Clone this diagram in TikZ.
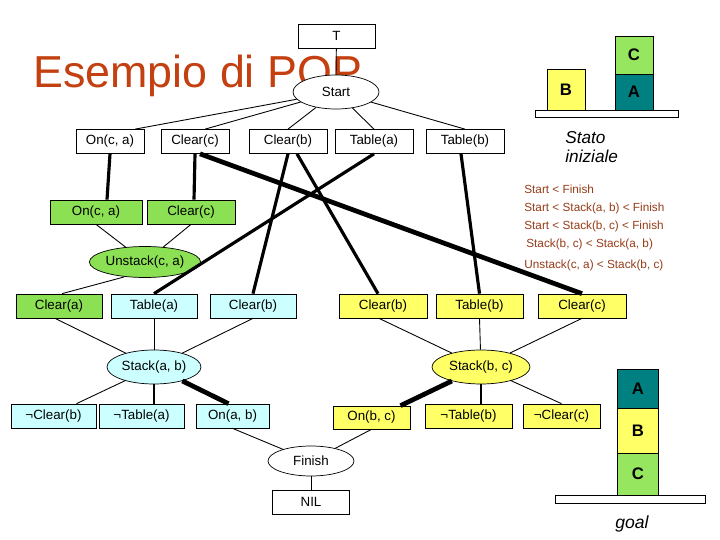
\documentclass[tikz,border=0pt]{standalone}
\usepackage{fontspec}
\setmainfont{Liberation Sans}
\usetikzlibrary{shapes.geometric,calc}

\definecolor{titlered}{RGB}{196,64,16}
\definecolor{ordbrown}{RGB}{150,60,25}
\definecolor{popgreen}{RGB}{140,224,84}
\definecolor{popcyan}{RGB}{204,255,255}
\definecolor{popyellow}{RGB}{255,255,102}
\definecolor{blockteal}{RGB}{0,128,128}
\definecolor{blockgreen}{RGB}{150,230,95}

\newcommand{\popfont}{\fontsize{7.6}{9}\selectfont}

\begin{document}
\begin{tikzpicture}[x=0.02cm, y=-0.02cm,
    cond/.style={draw, fill=white, minimum height=0.48cm, minimum width=1.72cm,
                 inner sep=1pt, font=\popfont},
    act/.style={draw, ellipse, fill=white, inner sep=0pt, font=\popfont},
    blk/.style={draw, inner sep=0pt, font=\fontsize{9.5}{11}\selectfont\bfseries},
    ord/.style={anchor=west, text=ordbrown, inner sep=0pt, font=\fontsize{6.7}{8}\selectfont},
    lnk/.style={line width=0.5pt},
    medlnk/.style={line width=1.2pt},
    caus/.style={line width=1.8pt},
    bigcaus/.style={line width=2.7pt}
]
    \path[fill=white, use as bounding box] (0,0) rectangle (720,540);

    % title
    \node[anchor=base west, inner sep=0pt, text=titlered,
          font=\fontsize{25.5}{28}\selectfont] (ttl) at (33,88) {Esempio di POP};

    % plan graph
    \node[cond, minimum width=1.54cm] (t) at (336.5,36) {T};
    \draw[lnk] (t) -- (336,75);
    \node[act, minimum width=1.72cm, minimum height=0.68cm] (st) at (336,92) {Start};

    \node[cond, minimum width=1.36cm] (ton) at (110,141.5) {On(c, a)};
    \node[cond, minimum width=1.36cm] (tcc) at (195,141.5) {Clear(c)};
    \node[cond, minimum width=1.56cm] (tcb) at (288,141.5) {Clear(b)};
    \node[cond, minimum width=1.56cm] (tta) at (374,141.5) {Table(a)};
    \node[cond, minimum width=1.56cm] (ttb) at (465,141.5) {Table(b)};

    \node[cond, fill=popgreen, minimum width=1.84cm] (gon) at (96,212) {On(c, a)};
    \node[cond, fill=popgreen, minimum width=1.76cm] (gcc) at (191,212) {Clear(c)};
    \node[act, fill=popgreen, minimum width=2.06cm, minimum height=0.62cm] (un) at (145,262) {Unstack(c, a)};

    \node[cond, fill=popgreen] (gca) at (59,306) {Clear(a)};
    \node[cond, fill=popcyan] (cta) at (154,306) {Table(a)};
    \node[cond, fill=popcyan] (ccb) at (253,306) {Clear(b)};
    \node[cond, fill=popyellow, minimum width=1.76cm] (ycb) at (383,306) {Clear(b)};
    \node[cond, fill=popyellow, minimum width=1.74cm] (ytb) at (479.5,306) {Table(b)};
    \node[cond, fill=popyellow, minimum width=1.76cm] (ycc) at (582,306) {Clear(c)};

    \node[act, fill=popcyan, minimum width=1.88cm, minimum height=0.68cm] (sab) at (154,367) {Stack(a, b)};
    \node[act, fill=popyellow, minimum width=1.96cm, minimum height=0.68cm] (sbc) at (481,367) {Stack(b, c)};

    \node[cond, fill=popcyan, minimum width=1.7cm] (ncb) at (53.5,416) {¬Clear(b)};
    \node[cond, fill=popcyan, minimum width=1.7cm] (nta) at (141.5,416) {¬Table(a)};
    \node[cond, fill=popcyan, minimum width=1.46cm] (oab) at (232.5,416) {On(a, b)};
    \node[cond, fill=popyellow, minimum width=1.54cm, minimum height=0.46cm] (obc) at (371.5,417.5) {On(b, c)};
    \node[cond, fill=popyellow, minimum width=1.74cm] (ntb) at (468.5,416) {¬Table(b)};
    \node[cond, fill=popyellow, minimum width=1.54cm] (ncc) at (561.5,416) {¬Clear(c)};

    \node[act, minimum width=1.72cm, minimum height=0.6cm] (fin) at (311,461) {Finish};
    \node[cond, minimum width=1.54cm] (nil) at (311,502) {NIL};

    % start to its effects
    \draw[lnk] (st) -- ($(ton.north)+(25,0)$);
    \draw[lnk] (st) -- ($(tcc.north)+(10,0)$);
    \draw[lnk] (st) -- (tcb.north);
    \draw[lnk] (st) -- (tta.north);
    \draw[lnk] (st) -- (ttb.north);

    % causal links
    \draw[caus] (ton.south) -- ($(gon.north)+(11,0)$);
    \draw[caus] (tcc.south) -- ($(gcc.north)+(3,0)$);
    \draw[bigcaus] ($(tcc.south)+(5,0)$) -- (ycc.north);
    \draw[caus] (tcb.south) -- (ccb.north);
    \draw[caus] ($(tcb.south)+(9,0)$) -- ($(ycb.north)+(-5,0)$);
    \draw[caus] (tta.south) -- (cta.north);
    \draw[caus] ($(ttb.south)+(-4,0)$) -- (ytb.north);

    % preconditions and effects
    \draw[lnk] (gon.south) -- (un);
    \draw[lnk] (gcc.south) -- (un);
    \draw[lnk] ($(un.center)+(-21,15)$) -- ($(gca.north)+(3,0)$);

    \draw[lnk] ($(gca.south)+(-4,0)$) -- (sab);
    \draw[lnk] (cta.south) -- (sab);
    \draw[lnk] (ccb.south) -- (sab);
    \draw[lnk] ($(ycb.south)+(-4,0)$) -- (sbc);
    \draw[lnk] (ytb.south) -- (sbc);
    \draw[lnk] (ycc.south) -- (sbc);

    \draw[lnk] (sab) -- ($(ncb.north)+(23,0)$);
    \draw[medlnk] (sab.south) -- (sab.south |- nta.north);
    \draw[bigcaus] (sab) -- ($(oab.north)+(-4,0)$);
    \draw[bigcaus] (sbc) -- ($(obc.north)+(29,0)$);
    \draw[medlnk] (sbc.south) -- (sbc.south |- ntb.north);
    \draw[lnk] (sbc) -- (ncc.north);

    \draw[lnk] (oab.south) -- (fin);
    \draw[lnk] (obc.south) -- (fin);
    \draw[lnk] (fin) -- (nil);

    % ordering constraints
    \node[ord] (o1) at (524,189) {Start < Finish};
    \node[ord] (o2) at (524,208) {Start < Stack(a, b) < Finish};
    \node[ord] (o3) at (524,226) {Start < Stack(b, c) < Finish};
    \node[ord] (o4) at (526,244) {Stack(b, c) < Stack(a, b)};
    \node[ord] (o5) at (524,265) {Unstack(c, a) < Stack(b, c)};

    % initial state
    \node[blk, fill=popyellow, minimum width=0.76cm, minimum height=0.82cm] (bi) at (566,89.5) {B};
    \node[blk, fill=blockgreen, minimum width=0.76cm, minimum height=0.76cm] (ci) at (634,55) {C};
    \node[blk, fill=blockteal, minimum width=0.76cm, minimum height=0.72cm] (ai) at (634,92) {A};
    \draw[fill=white] (535,110) rectangle (678,117);
    \node[anchor=north west, inner sep=0pt, align=left,
          font=\fontsize{9.8}{10.8}\selectfont\itshape] (si) at (565,131) {Stato\\iniziale};

    % goal
    \node[blk, fill=blockteal, minimum width=0.82cm, minimum height=0.78cm] (ag) at (638,388.5) {A};
    \node[blk, fill=popyellow, minimum width=0.82cm, minimum height=0.9cm] (bg) at (638,430.5) {B};
    \node[blk, fill=blockgreen, minimum width=0.82cm, minimum height=0.84cm] (cg) at (638,474) {C};
    \draw[fill=white] (555,495) rectangle (705,503);
    \node[inner sep=0pt, font=\fontsize{10}{12}\selectfont\itshape] (gl) at (632,524) {goal};
\end{tikzpicture}
\end{document}
